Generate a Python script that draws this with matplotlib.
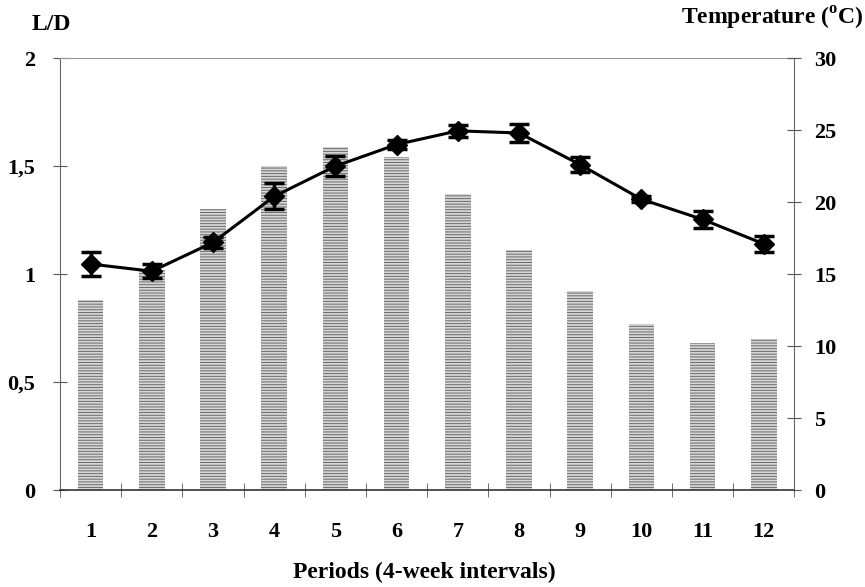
import numpy as np
import matplotlib.pyplot as plt

# L/D ratio per 4-week period (bars, left axis)
periods = np.arange(1, 13)
period_labels = [str(p) for p in periods]
ld_ratio = [0.88, 1.02, 1.30, 1.50, 1.59, 1.54, 1.37, 1.11, 0.92, 0.77, 0.68, 0.70]

# temperature (line, right axis) with error bars
temperature = [15.7, 15.2, 17.2, 20.4, 22.5, 24.0, 24.95, 24.8, 22.6, 20.2, 18.8, 17.1]
temp_err = [0.85, 0.5, 0.4, 0.9, 0.7, 0.3, 0.4, 0.6, 0.5, 0.2, 0.6, 0.55]

plt.rcParams['font.family'] = ['Liberation Serif', 'DejaVu Serif']
plt.rcParams['font.weight'] = 'bold'
plt.rcParams['mathtext.fontset'] = 'custom'
plt.rcParams['mathtext.rm'] = 'Liberation Serif:bold'
plt.rcParams['mathtext.bf'] = 'Liberation Serif:bold'
plt.rcParams['hatch.linewidth'] = 0.7

fig = plt.figure(figsize=(8.65, 5.87), dpi=100)
ax = fig.add_axes([0.0694, 0.165, 0.849, 0.736])

ax.bar(periods, ld_ratio, width=0.42, color='#d6d6d6', edgecolor='#6a6a6a',
       hatch='------', linewidth=0, zorder=1)
ax.set_xlim(0.5, 12.5)
ax.set_ylim(0, 2)
ax.set_yticks([0, 0.5, 1, 1.5, 2])
ax.set_yticklabels(['0', '0,5', '1', '1,5', '2'])
ax.set_xticks(periods)
ax.set_xticklabels(period_labels)
ax.set_xticks(np.arange(0.5, 13, 1), minor=True)
ax.tick_params(axis='x', which='major', length=0, pad=23, labelsize=16)
ax.tick_params(axis='x', which='minor', length=10, direction='inout', color='#555555')
ax.tick_params(axis='y', length=10, direction='inout', labelsize=16, pad=13, color='#555555')

for side in ['left', 'right']:
    ax.spines[side].set_color('#666666')
    ax.spines[side].set_linewidth(0.8)
    ax.spines[side].set_linestyle((0, (2, 1)))
ax.spines['top'].set_color('#999999')
ax.spines['top'].set_linewidth(0.8)
ax.spines['bottom'].set_color('#333333')
ax.spines['bottom'].set_linewidth(1.2)

ax2 = ax.twinx()
ax2.errorbar(periods, temperature, yerr=temp_err, color='black', lw=2.2,
             marker='D', markersize=10, capsize=7, capthick=2.5, elinewidth=2.5, zorder=3)
ax2.set_ylim(0, 30)
ax2.set_yticks([0, 5, 10, 15, 20, 25, 30])
ax2.tick_params(axis='y', length=10, direction='inout', labelsize=16, pad=9, color='#555555')
for side in ['left', 'right', 'top', 'bottom']:
    ax2.spines[side].set_visible(False)

fig.text(0.037, 0.958, 'L/D', fontsize=17, fontweight='bold', ha='left', va='center')
fig.text(0.998, 0.968, 'Temperature ($^{\\mathrm{o}}$C)', fontsize=17, fontweight='bold',
         ha='right', va='center')
fig.text(0.49, 0.024, 'Periods (4-week intervals)', fontsize=17, fontweight='bold',
         ha='center', va='center')

fig.savefig('out.png', dpi=100)
